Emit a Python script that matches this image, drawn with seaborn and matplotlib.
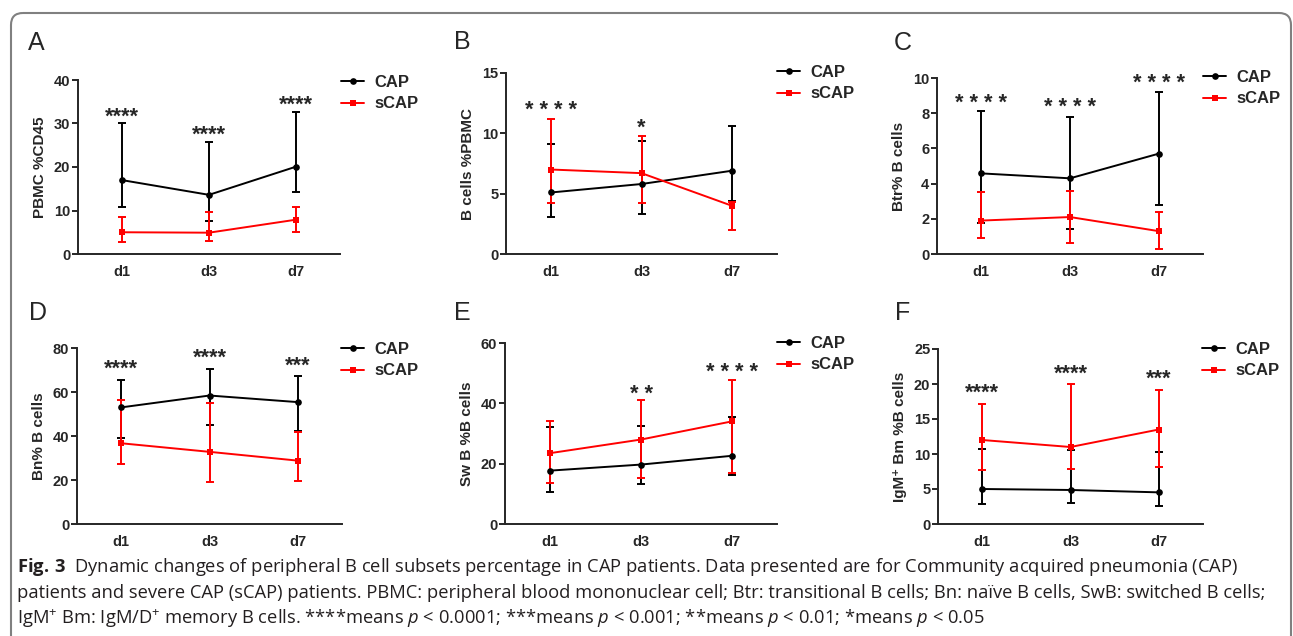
import numpy as np
import pandas as pd
import matplotlib
matplotlib.use("Agg")
import matplotlib.pyplot as plt
from matplotlib.patches import FancyBboxPatch
import seaborn as sns

# ---- data ----
days = ["d1", "d3", "d7"]
groups = ["CAP", "sCAP"]

# A  PBMC %CD45
a_cap = [17.0, 13.6, 20.1]
a_cap_lo = [10.7, 7.5, 14.2]
a_cap_hi = [30.0, 25.7, 32.7]
a_scap = [5.0, 4.9, 7.9]
a_scap_lo = [2.75, 3.1, 5.1]
a_scap_hi = [8.5, 9.6, 10.9]
a_stars = ["****", "****", "****"]
a_star_y = [33.1, 28.9, 35.8]

# B  B cells %PBMC
b_cap = [5.1, 5.8, 6.9]
b_cap_lo = [3.1, 3.3, 4.4]
b_cap_hi = [9.1, 9.4, 10.6]
b_scap = [7.0, 6.7, 4.0]
b_scap_lo = [4.2, 4.2, 2.0]
b_scap_hi = [11.2, 9.8, 4.3]
b_stars = ["* * * *", "*", ""]
b_star_y = [12.5, 11.0, 0]

# C  Btr% B cells
c_cap = [4.58, 4.3, 5.7]
c_cap_lo = [1.75, 1.4, 2.8]
c_cap_hi = [8.1, 7.8, 9.2]
c_scap = [1.9, 2.1, 1.3]
c_scap_lo = [0.9, 0.6, 0.3]
c_scap_hi = [3.5, 3.6, 2.4]
c_stars = ["* * * *", "* * * *", "* * * *"]
c_star_y = [8.96, 8.7, 10.1]

# D  Bn% B cells
d_cap = [53.0, 58.4, 55.4]
d_cap_lo = [39.2, 44.8, 42.2]
d_cap_hi = [65.4, 70.4, 67.2]
d_scap = [36.7, 32.8, 28.8]
d_scap_lo = [27.3, 19.1, 19.4]
d_scap_hi = [56.5, 55.0, 41.6]
d_stars = ["****", "****", "***"]
d_star_y = [73.5, 78.5, 74.7]

# E  Sw B %B cells
e_cap = [17.7, 19.7, 22.6]
e_cap_lo = [10.6, 13.2, 16.3]
e_cap_hi = [32.0, 32.6, 35.4]
e_scap = [23.5, 28.0, 34.0]
e_scap_lo = [13.7, 15.1, 16.8]
e_scap_hi = [34.0, 41.2, 47.7]
e_stars = ["", "* *", "* * * *"]
e_star_y = [0, 45.4, 52.6]

# F  IgM+ Bm %B cells
f_cap = [5.0, 4.86, 4.52]
f_cap_lo = [2.86, 3.0, 2.6]
f_cap_hi = [10.67, 10.6, 10.3]
f_scap = [12.0, 11.0, 13.5]
f_scap_lo = [7.7, 7.86, 8.1]
f_scap_hi = [17.2, 20.0, 19.2]
f_stars = ["****", "****", "***"]
f_star_y = [19.7, 22.4, 21.7]

panels = [
    dict(letter="A", ylabel="PBMC %CD45", ymax=40, ystep=10,
         cap=(a_cap, a_cap_lo, a_cap_hi), scap=(a_scap, a_scap_lo, a_scap_hi),
         stars=a_stars, star_y=a_star_y),
    dict(letter="B", ylabel="B cells %PBMC", ymax=15, ystep=5,
         cap=(b_cap, b_cap_lo, b_cap_hi), scap=(b_scap, b_scap_lo, b_scap_hi),
         stars=b_stars, star_y=b_star_y),
    dict(letter="C", ylabel="Btr% B cells", ymax=10, ystep=2,
         cap=(c_cap, c_cap_lo, c_cap_hi), scap=(c_scap, c_scap_lo, c_scap_hi),
         stars=c_stars, star_y=c_star_y),
    dict(letter="D", ylabel="Bn% B cells", ymax=80, ystep=20,
         cap=(d_cap, d_cap_lo, d_cap_hi), scap=(d_scap, d_scap_lo, d_scap_hi),
         stars=d_stars, star_y=d_star_y),
    dict(letter="E", ylabel="Sw B %B cells", ymax=60, ystep=20,
         cap=(e_cap, e_cap_lo, e_cap_hi), scap=(e_scap, e_scap_lo, e_scap_hi),
         stars=e_stars, star_y=e_star_y),
    dict(letter="F", ylabel="IgM\u207a Bm %B cells", ymax=25, ystep=5,
         cap=(f_cap, f_cap_lo, f_cap_hi), scap=(f_scap, f_scap_lo, f_scap_hi),
         stars=f_stars, star_y=f_star_y),
]

# ---- layout in pixels (left, right, top, bottom), legend anchor, letter pos ----
W, H = 1293, 636
boxes = [(78, 340, 80, 254), (506, 777, 73, 254), (937, 1203, 78, 254),
         (77, 342, 348, 524), (505, 777, 343, 524), (938, 1203, 349, 524)]
legend_xy = [(341, 82), (777, 72), (1203, 77), (341, 349), (777, 343), (1202, 349)]
letter_xy = [(36, 43), (462, 42), (903, 43), (38, 313), (462, 313), (903, 313)]

colors = {"CAP": "black", "sCAP": "#ff0000"}
markers = {"CAP": "o", "sCAP": "s"}

sns.set_style("ticks")
plt.rcParams["font.family"] = ["Liberation Sans", "DejaVu Sans"]
plt.rcParams["mathtext.fontset"] = "custom"
plt.rcParams["mathtext.rm"] = "Open Sans"
plt.rcParams["mathtext.it"] = "Open Sans:italic"
plt.rcParams["mathtext.bf"] = "Open Sans:bold"

fig = plt.figure(figsize=(W / 100, H / 100), dpi=100)
bg = fig.add_axes([0, 0, 1, 1])
bg.set_xlim(0, W)
bg.set_ylim(H, 0)
bg.axis("off")

# rounded frame
frame = FancyBboxPatch((11, 13), 1280, 700, boxstyle="round,pad=0,rounding_size=12",
                       fc="none", ec="#808080", lw=1.5)
bg.add_patch(frame)

star_fs = 15.5
for p, (l, r, t, b), (lx, ly), (tx, ty) in zip(panels, boxes, legend_xy, letter_xy):
    ax = fig.add_axes([l / W, (H - b) / H, (r - l) / W, (b - t) / H])
    ax.set_facecolor("none")

    rows = []
    for g, (mean, lo, hi) in zip(groups, [p["cap"], p["scap"]]):
        for i, d in enumerate(days):
            rows.append({"day": i, "value": mean[i], "group": g})
    df = pd.DataFrame(rows)

    # asymmetric error bars
    for g, (mean, lo, hi) in zip(groups, [p["cap"], p["scap"]]):
        m = np.array(mean)
        ax.errorbar(np.arange(len(days)), m,
                    yerr=[m - np.array(lo), np.array(hi) - m],
                    fmt="none", ecolor=colors[g], elinewidth=1.4,
                    capsize=3, capthick=1.4, zorder=2)

    sns.lineplot(data=df, x="day", y="value", hue="group", style="group",
                 palette=colors, markers=markers, dashes=False, lw=1.4,
                 markersize=4.8, markeredgewidth=0, ax=ax, zorder=3)

    handles, labels = ax.get_legend_handles_labels()
    ax.legend(handles, labels, loc="upper left", bbox_to_anchor=(lx, ly - 7),
              bbox_transform=bg.transData, frameon=False, borderpad=0,
              borderaxespad=0, handlelength=1.4, handletextpad=0.6,
              labelspacing=0.38, prop={"size": 12, "weight": "bold"})

    for i, (s, sy) in enumerate(zip(p["stars"], p["star_y"])):
        if s:
            ax.annotate(s, (i, sy), xytext=(0, -0.58 * star_fs), textcoords="offset points",
                        ha="center", va="baseline", fontsize=star_fs,
                        fontweight="bold", annotation_clip=False)

    ax.set_xlim(-0.5, 2.5)
    ax.set_ylim(0, p["ymax"])
    ax.set_yticks(np.arange(0, p["ymax"] + 0.01, p["ystep"]))
    ax.set_xticks(range(len(days)))
    ax.set_xticklabels(days)
    ax.set_xlabel("")
    ax.set_ylabel(p["ylabel"], fontsize=11, fontweight="bold", labelpad=5)
    ax.tick_params(axis="y", length=4, width=1.4, pad=1.5, labelsize=10.5)
    ax.tick_params(axis="x", length=0, pad=8, labelsize=10.5)
    for lab in ax.get_xticklabels() + ax.get_yticklabels():
        lab.set_fontweight("bold")
    sns.despine(ax=ax)
    for sp in ("left", "bottom"):
        ax.spines[sp].set_linewidth(1.4)

    bg.text(tx, ty, p["letter"], fontsize=18, ha="center", va="center")

# caption
cap_lines = [
    r"$\mathbf{Fig.}\,\mathbf{3}$  Dynamic changes of peripheral B cell subsets percentage in CAP patients. "
    r"Data presented are for Community acquired pneumonia (CAP)",
    r"patients and severe CAP (sCAP) patients. PBMC: peripheral blood mononuclear cell; "
    r"Btr: transitional B cells; Bn: naïve B cells, SwB: switched B cells;",
    r"IgM$^{+}$ Bm: IgM/D$^{+}$ memory B cells. ****means $p$ < 0.0001; ***means $p$ < 0.001; "
    r"**means $p$ < 0.01; *means $p$ < 0.05",
]
for k, line in enumerate(cap_lines):
    bg.text(17, 572 + 26 * k, line, fontsize=13.2, ha="left", va="baseline",
            family=["Open Sans", "DejaVu Sans"], color="#231f20")

fig.savefig("out.png", dpi=100)
